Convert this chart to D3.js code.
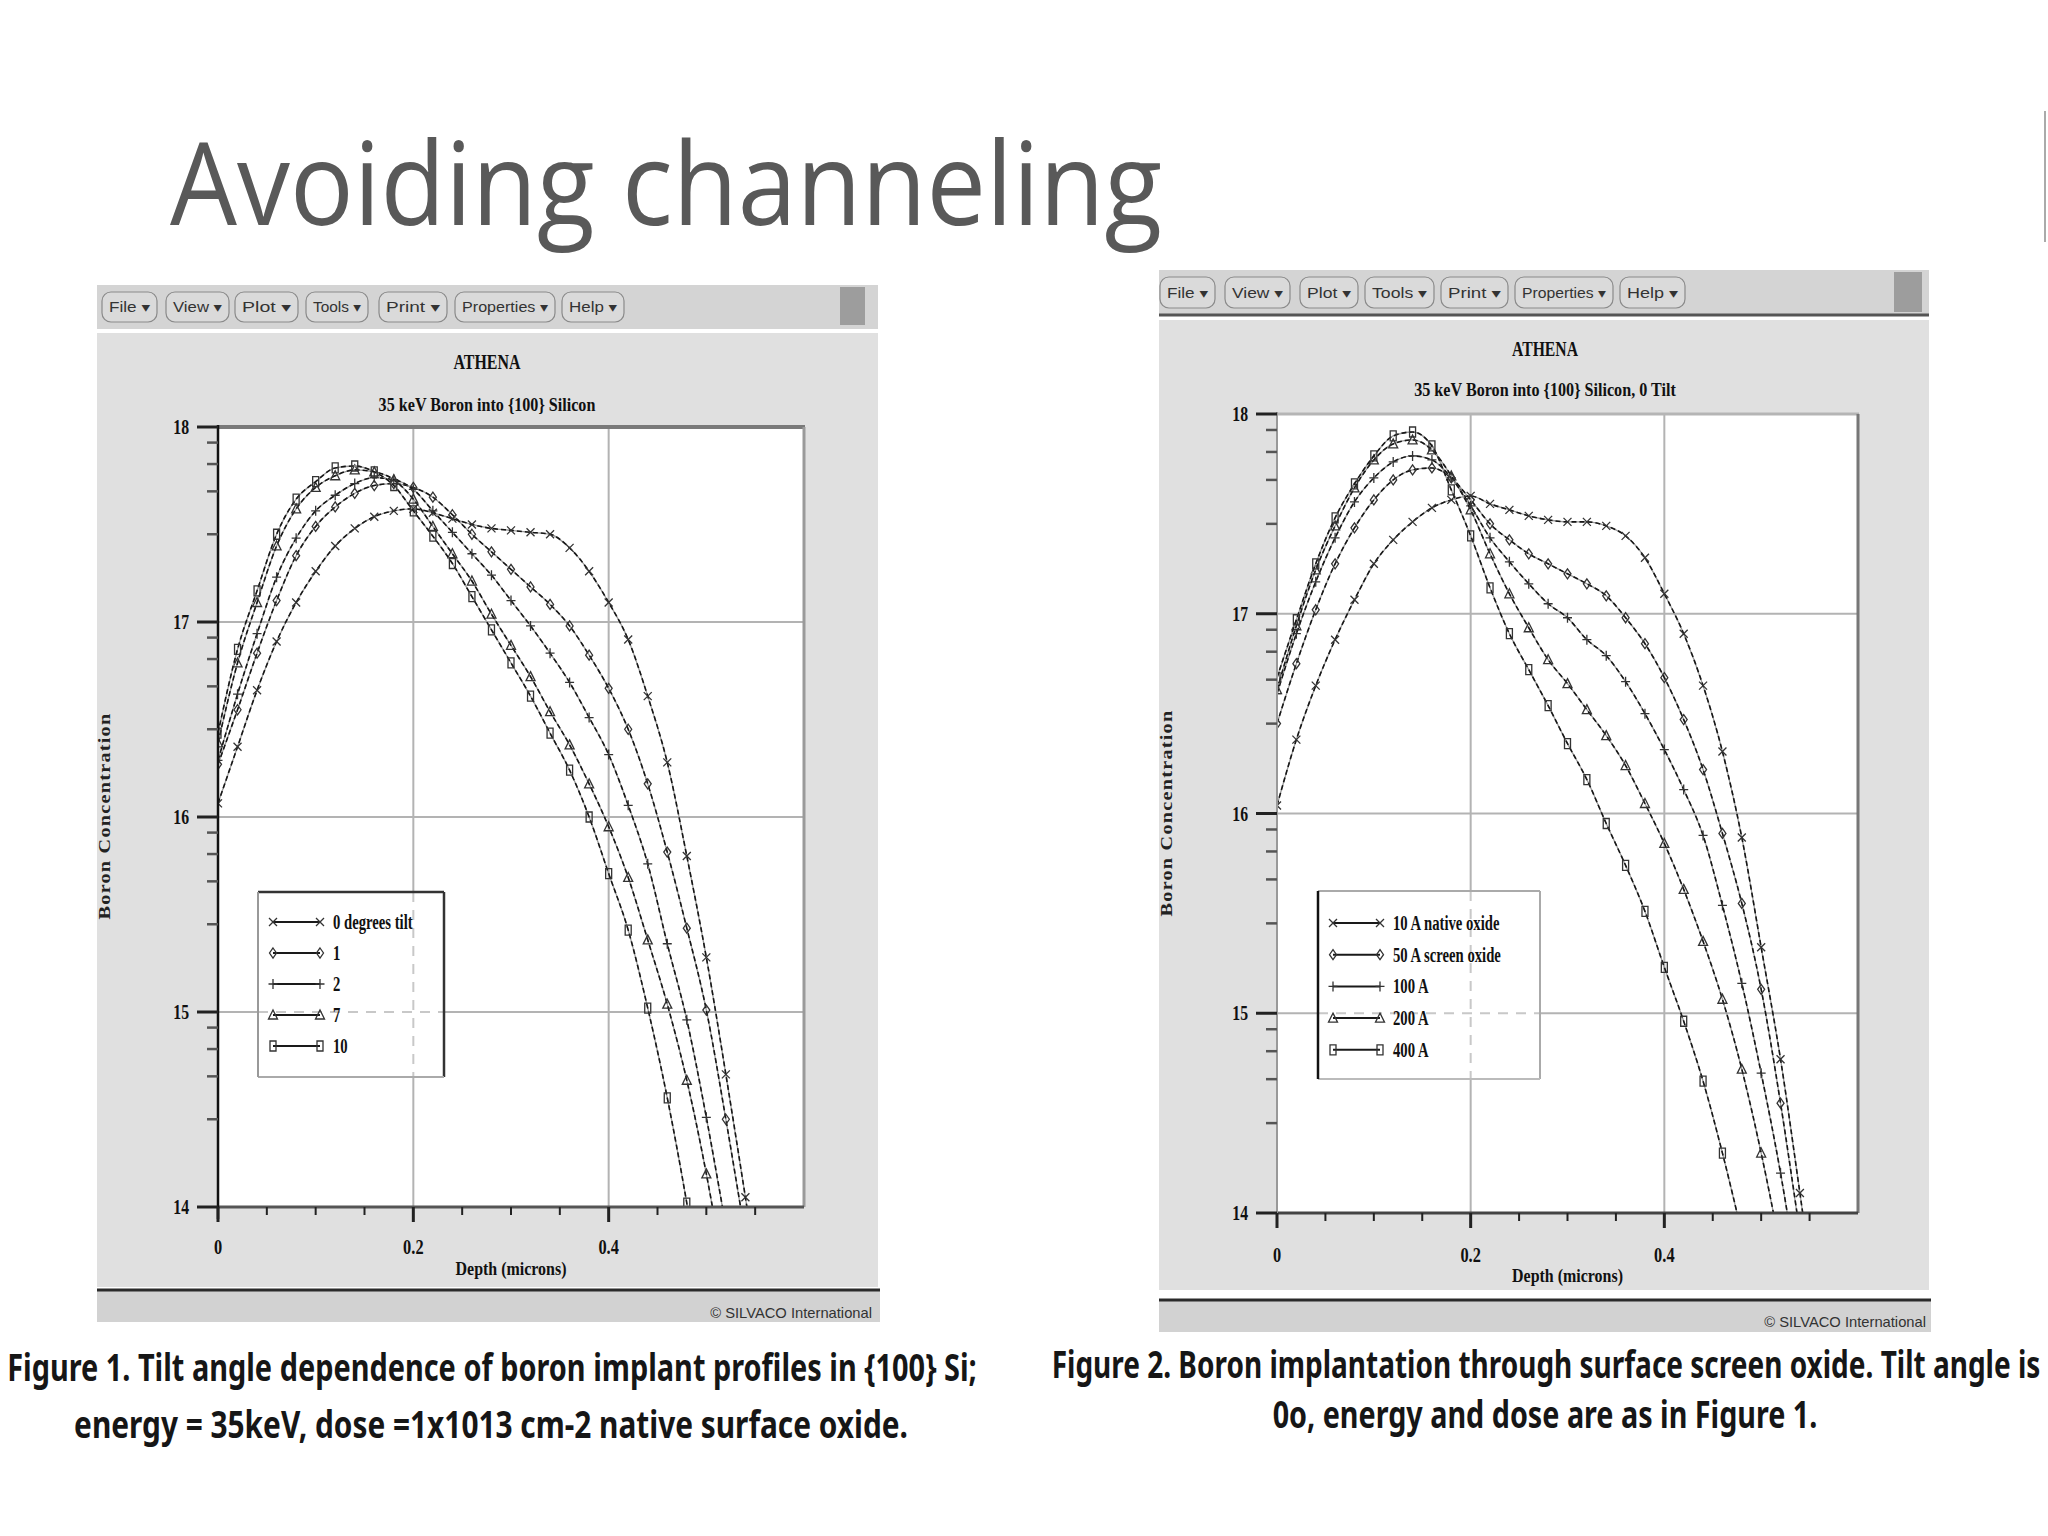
<!DOCTYPE html>
<html>
<head>
<meta charset="utf-8">
<title>Avoiding channeling</title>
<style>
  html, body { margin: 0; padding: 0; background: #fff; }
  svg { display: block; }
</style>
</head>
<body>
<svg id="slide" width="2048" height="1536"></svg>
<script src="https://cdn.jsdelivr.net/npm/d3@7"></script>
<script>
  // depth grid (microns) shared by every profile
  const depth = [0, 0.02, 0.04, 0.06, 0.08, 0.10, 0.12, 0.14, 0.16, 0.18, 0.20, 0.22, 0.24, 0.26,
    0.28, 0.30, 0.32, 0.34, 0.36, 0.38, 0.40, 0.42, 0.44, 0.46, 0.48, 0.50, 0.52, 0.54, 0.56]

  // Figure 1: log10 boron concentration per tilt angle
  const tilt0 = [16.07, 16.36, 16.65, 16.90, 17.10, 17.26, 17.39, 17.48, 17.54, 17.57, 17.58, 17.56, 17.53, 17.50,
    17.48, 17.47, 17.46, 17.45, 17.38, 17.26, 17.10, 16.91, 16.62, 16.28, 15.80, 15.28, 14.68, 14.05, 13.40]
  const tilt1 = [16.27, 16.55, 16.84, 17.11, 17.34, 17.49, 17.59, 17.66, 17.70, 17.71, 17.69, 17.64, 17.55, 17.45,
    17.36, 17.27, 17.18, 17.09, 16.98, 16.83, 16.66, 16.45, 16.17, 15.82, 15.43, 15.01, 14.45, 13.85]
  const tilt2 = [16.29, 16.63, 16.94, 17.23, 17.43, 17.57, 17.65, 17.71, 17.74, 17.73, 17.68, 17.57, 17.46, 17.35,
    17.24, 17.11, 16.98, 16.84, 16.69, 16.51, 16.32, 16.06, 15.76, 15.35, 14.96, 14.46, 13.90]
  const tilt7 = [16.38, 16.79, 17.10, 17.39, 17.58, 17.69, 17.75, 17.78, 17.77, 17.73, 17.63, 17.49, 17.35, 17.21,
    17.04, 16.88, 16.72, 16.54, 16.37, 16.17, 15.95, 15.69, 15.37, 15.04, 14.65, 14.17, 13.60]
  const tilt10 = [16.43, 16.86, 17.16, 17.45, 17.63, 17.72, 17.79, 17.80, 17.77, 17.70, 17.57, 17.44, 17.30, 17.13,
    16.96, 16.79, 16.62, 16.43, 16.24, 16.00, 15.71, 15.42, 15.02, 14.56, 14.02, 13.40]
  const tiltLabels = ['0 degrees tilt', '1', '2', '7', '10']

  // Figure 2: log10 boron concentration per screen oxide thickness
  const ox10 = [16.04, 16.37, 16.64, 16.87, 17.07, 17.25, 17.37, 17.46, 17.53, 17.57, 17.59, 17.55, 17.52, 17.49,
    17.47, 17.46, 17.46, 17.44, 17.39, 17.28, 17.10, 16.90, 16.64, 16.31, 15.88, 15.33, 14.77, 14.10, 13.40]
  const ox50 = [16.45, 16.75, 17.02, 17.25, 17.43, 17.57, 17.67, 17.72, 17.73, 17.68, 17.57, 17.45, 17.37, 17.30,
    17.25, 17.20, 17.15, 17.09, 16.98, 16.85, 16.68, 16.47, 16.22, 15.90, 15.55, 15.12, 14.55, 13.90]
  const ox100 = [16.60, 16.90, 17.16, 17.38, 17.56, 17.68, 17.76, 17.79, 17.77, 17.68, 17.54, 17.38, 17.26, 17.15,
    17.05, 16.98, 16.87, 16.79, 16.66, 16.50, 16.32, 16.12, 15.89, 15.54, 15.15, 14.70, 14.20, 13.60]
  const ox200 = [16.62, 16.94, 17.22, 17.44, 17.63, 17.77, 17.85, 17.87, 17.82, 17.69, 17.52, 17.30, 17.10, 16.93,
    16.77, 16.65, 16.52, 16.39, 16.24, 16.05, 15.85, 15.62, 15.36, 15.07, 14.72, 14.30, 13.82]
  const ox400 = [16.68, 16.97, 17.25, 17.48, 17.65, 17.79, 17.89, 17.91, 17.84, 17.62, 17.39, 17.13, 16.90, 16.72,
    16.54, 16.35, 16.17, 15.95, 15.74, 15.51, 15.23, 14.96, 14.66, 14.30, 13.90]
  const oxideLabels = ['10 A native oxide', '50 A screen oxide', '100 A', '200 A', '400 A']

  const markerTypes = ['cross', 'diamond', 'plus', 'triangle', 'square']

  // axis ticks
  const yMajor = [14, 15, 16, 17, 18]
  const yMinorOffsets = [0.08, 0.19, 0.33, 0.55]
  const xTicks = [0, 0.05, 0.1, 0.15, 0.2, 0.25, 0.3, 0.35, 0.4, 0.45, 0.5, 0.55]
  const xLabels = [0, 0.2, 0.4]
  const vGrid = [0.2, 0.4]
  const hGrid = [15, 16, 17]
  const menuLabels = ['File', 'View', 'Plot', 'Tools', 'Print', 'Properties', 'Help']

  const serif = "'Liberation Serif', 'DejaVu Serif', serif"
  const sans = "'Liberation Sans', 'DejaVu Sans', sans-serif"

  const svg = d3.select('#slide')
  svg.append('rect').attr('width', 2048).attr('height', 1536).attr('fill', '#fff')

  // squash a text horizontally with a transform so its box really is the target width
  const scaleText = (sel, widthOf) => {
    sel.each(function (d, i) {
      const node = d3.select(this)
      const nat = this.getComputedTextLength()
      const tx = +node.attr('x') || 0
      const ty = +node.attr('y') || 0
      const rot = node.attr('data-rot') || 0
      node.attr('x', 0).attr('y', 0)
        .attr('transform', `translate(${tx},${ty}) rotate(${rot}) scale(${widthOf(nat, d, i) / nat},1)`)
    })
    return sel
  }
  const fitTo = (sel, w) => scaleText(sel, () => w)
  const squeeze = (sel, k) => scaleText(sel, nat => nat * k)

  const markerPath = {
    cross: 'M-4,-4L4,4M-4,4L4,-4',
    diamond: 'M0,-5L3.5,0L0,5L-3.5,0Z',
    plus: 'M-4.5,0L4.5,0M0,-5L0,5',
    triangle: 'M0,-5L4.5,4L-4.5,4Z',
    square: 'M-3,-5H3V5H-3Z'
  }

  // slide title
  fitTo(svg.append('text')
    .attr('x', 170).attr('y', 225)
    .attr('font-family', "'Open Sans', 'Noto Sans', sans-serif")
    .attr('font-size', 116)
    .attr('fill', '#595959')
    .text('Avoiding channeling'), 992)

  svg.append('line')
    .attr('x1', 2045).attr('x2', 2045).attr('y1', 111).attr('y2', 242)
    .attr('stroke', '#aaa').attr('stroke-width', 2)

  const panels = [
    {
      id: 'fig1',
      left: 97, right: 878,
      menuTop: 285, menuBottom: 329, menuRule: false,
      btnTop: 292, btnBottom: 322,
      buttons: [[102, 157], [166, 229], [235, 298], [306, 368], [379, 447], [455, 555], [562, 624]],
      scroll: [840, 287, 25, 38],
      bodyTop: 333, bodyBottom: 1287, ruleY: 1290, statusBottom: 1322,
      centerX: 487, athenaY: 369, athenaW: 67,
      subtitle: '35 keV Boron into {100} Silicon', subY: 411, subW: 217,
      plot: { left: 218, right: 804, top: 427, bottom: 1207 },
      frame: { top: ['#7a7a7a', 4], right: ['#9a9a9a', 3], axis: ['#111', 2.5], bottom: ['#555', 3] },
      yLabelX: 104, yLabelY: 816,
      xLabelY: 1254, depthY: 1275,
      series: [tilt0, tilt1, tilt2, tilt7, tilt10],
      labels: tiltLabels,
      legend: { x0: 258, x1: 444, y0: 892, y1: 1077, rowY: 922, rowStep: 31, sx0: 273, sx1: 320, tx: 333,
        borders: { top: ['#333', 2.5], right: ['#333', 2.5], bottom: ['#aaa', 2], left: ['#999', 2] } },
      silvacoX: 872, silvacoY: 1313
    },
    {
      id: 'fig2',
      left: 1159, right: 1929,
      menuTop: 270, menuBottom: 314, menuRule: true,
      btnTop: 277, btnBottom: 308,
      buttons: [[1160, 1215], [1225, 1290], [1300, 1358], [1365, 1434], [1441, 1508], [1515, 1613], [1620, 1685]],
      scroll: [1894, 272, 28, 40],
      bodyTop: 320, bodyBottom: 1290, ruleY: 1300, statusBottom: 1332,
      centerX: 1545, athenaY: 356, athenaW: 66,
      subtitle: '35 keV Boron into {100} Silicon, 0 Tilt', subY: 396, subW: 262,
      plot: { left: 1277, right: 1858, top: 414, bottom: 1213 },
      frame: { top: ['#b5b5b5', 3], right: ['#777', 3], axis: ['#999', 2], bottom: ['#444', 3] },
      yLabelX: 1166, yLabelY: 813,
      xLabelY: 1262, depthY: 1282,
      series: [ox10, ox50, ox100, ox200, ox400],
      labels: oxideLabels,
      legend: { x0: 1318, x1: 1540, y0: 891, y1: 1079, rowY: 923, rowStep: 31.7, sx0: 1333, sx1: 1380, tx: 1393,
        borders: { top: ['#aaa', 2], right: ['#aaa', 2], bottom: ['#bbb', 2], left: ['#111', 2.5] } },
      silvacoX: 1926, silvacoY: 1322
    }
  ]

  const drawPanel = (p) => {
    const g = svg.append('g').attr('id', p.id)

    // menu bar
    g.append('rect')
      .attr('x', p.left).attr('y', p.menuTop)
      .attr('width', p.right - p.left).attr('height', p.menuBottom - p.menuTop)
      .attr('fill', '#d4d4d4')
    if (p.menuRule) {
      g.append('line')
        .attr('x1', p.left).attr('x2', p.right).attr('y1', p.menuBottom + 1).attr('y2', p.menuBottom + 1)
        .attr('stroke', '#555').attr('stroke-width', 3)
    }
    p.buttons.forEach(([bx0, bx1], i) => {
      g.append('rect')
        .attr('x', bx0).attr('y', p.btnTop)
        .attr('width', bx1 - bx0).attr('height', p.btnBottom - p.btnTop)
        .attr('rx', 9)
        .attr('fill', '#dadada').attr('stroke', '#8a8a8a').attr('stroke-width', 1.2)
      fitTo(g.append('text')
        .attr('x', (bx0 + bx1) / 2).attr('y', (p.btnTop + p.btnBottom) / 2 + 5)
        .attr('text-anchor', 'middle')
        .attr('font-family', sans).attr('font-size', 14).attr('fill', '#333')
        .text(menuLabels[i] + ' \u25BE'), bx1 - bx0 - 14)
    })
    g.append('rect')
      .attr('x', p.scroll[0]).attr('y', p.scroll[1])
      .attr('width', p.scroll[2]).attr('height', p.scroll[3])
      .attr('fill', '#9d9d9d')

    // body and status bar
    g.append('rect')
      .attr('x', p.left).attr('y', p.bodyTop)
      .attr('width', p.right - p.left).attr('height', p.bodyBottom - p.bodyTop)
      .attr('fill', '#e0e0e0')
    g.append('rect')
      .attr('x', p.left).attr('y', p.ruleY)
      .attr('width', p.right - p.left + 2).attr('height', p.statusBottom - p.ruleY)
      .attr('fill', '#d2d2d2')
    g.append('line')
      .attr('x1', p.left).attr('x2', p.right + 2).attr('y1', p.ruleY).attr('y2', p.ruleY)
      .attr('stroke', '#2a2a2a').attr('stroke-width', 3)
    fitTo(g.append('text')
      .attr('x', p.silvacoX).attr('y', p.silvacoY + 5)
      .attr('text-anchor', 'end')
      .attr('font-family', sans).attr('font-size', 14).attr('fill', '#333')
      .text('\u00A9 SILVACO International'), 162)

    // titles
    fitTo(g.append('text')
      .attr('x', p.centerX).attr('y', p.athenaY)
      .attr('text-anchor', 'middle')
      .attr('font-family', serif).attr('font-weight', 'bold').attr('font-size', 21).attr('fill', '#111')
      .text('ATHENA'), p.athenaW)
    fitTo(g.append('text')
      .attr('x', p.centerX).attr('y', p.subY)
      .attr('text-anchor', 'middle')
      .attr('font-family', serif).attr('font-weight', 'bold').attr('font-size', 19).attr('fill', '#111')
      .text(p.subtitle), p.subW)

    // scales
    const x = d3.scaleLinear().domain([0, 0.6]).range([p.plot.left, p.plot.right])
    const y = d3.scaleLinear().domain([14, 18]).range([p.plot.bottom, p.plot.top])

    // plot background
    g.append('rect')
      .attr('x', p.plot.left).attr('y', p.plot.top)
      .attr('width', p.plot.right - p.plot.left).attr('height', p.plot.bottom - p.plot.top)
      .attr('fill', '#fff')

    // grid
    g.selectAll('.vgrid').data(vGrid).enter().append('line')
      .attr('x1', d => x(d)).attr('x2', d => x(d))
      .attr('y1', p.plot.top).attr('y2', p.plot.bottom)
      .attr('stroke', '#b3b3b3').attr('stroke-width', 2)
    g.selectAll('.hgrid').data(hGrid).enter().append('line')
      .attr('x1', p.plot.left).attr('x2', p.plot.right)
      .attr('y1', d => y(d)).attr('y2', d => y(d))
      .attr('stroke', '#b3b3b3').attr('stroke-width', 2)

    // profiles
    const clipId = p.id + '-clip'
    g.append('clipPath').attr('id', clipId)
      .append('rect')
      .attr('x', p.plot.left).attr('y', p.plot.top - 6)
      .attr('width', p.plot.right - p.plot.left).attr('height', p.plot.bottom - p.plot.top + 6)
    const plotG = g.append('g').attr('clip-path', `url(#${clipId})`)

    const line = d3.line()
      .x(d => x(d[0]))
      .y(d => y(d[1]))
      .curve(d3.curveMonotoneX)

    p.series.forEach((values, si) => {
      const pts = values.map((v, i) => [depth[i], v])
      plotG.append('path').datum(pts)
        .attr('d', line)
        .attr('fill', 'none').attr('stroke', '#9a9a9a').attr('stroke-width', 1.3)
      plotG.append('path').datum(pts)
        .attr('d', line)
        .attr('fill', 'none').attr('stroke', '#161616').attr('stroke-width', 1.6)
        .attr('stroke-dasharray', '5 3')
      plotG.selectAll(null).data(pts.filter(d => d[1] >= 13.97)).enter().append('path')
        .attr('transform', d => `translate(${x(d[0])},${y(d[1])})`)
        .attr('d', markerPath[markerTypes[si]])
        .attr('fill', 'none').attr('stroke', '#333').attr('stroke-width', 1.3)
    })

    // frame
    g.append('line')
      .attr('x1', p.plot.left).attr('x2', p.plot.right + 1).attr('y1', p.plot.top).attr('y2', p.plot.top)
      .attr('stroke', p.frame.top[0]).attr('stroke-width', p.frame.top[1])
    g.append('line')
      .attr('x1', p.plot.right).attr('x2', p.plot.right).attr('y1', p.plot.top).attr('y2', p.plot.bottom)
      .attr('stroke', p.frame.right[0]).attr('stroke-width', p.frame.right[1])
    g.append('line')
      .attr('x1', p.plot.left).attr('x2', p.plot.right).attr('y1', p.plot.bottom).attr('y2', p.plot.bottom)
      .attr('stroke', p.frame.bottom[0]).attr('stroke-width', p.frame.bottom[1])
    g.append('line')
      .attr('x1', p.plot.left).attr('x2', p.plot.left).attr('y1', p.plot.top - 2).attr('y2', p.plot.bottom + 12)
      .attr('stroke', p.frame.axis[0]).attr('stroke-width', p.frame.axis[1])

    // y ticks
    const yMinor = yMajor.slice(1).flatMap(m => yMinorOffsets.map(o => m - o))
    g.selectAll('.ymin').data(yMinor).enter().append('line')
      .attr('x1', p.plot.left - 11).attr('x2', p.plot.left)
      .attr('y1', d => y(d)).attr('y2', d => y(d))
      .attr('stroke', '#555').attr('stroke-width', 2.5)
    g.selectAll('.ymaj').data(yMajor).enter().append('line')
      .attr('x1', p.plot.left - 21).attr('x2', p.plot.left)
      .attr('y1', d => y(d)).attr('y2', d => y(d))
      .attr('stroke', '#222').attr('stroke-width', 3)
    squeeze(g.selectAll('.ylab').data(yMajor).enter().append('text')
      .attr('x', p.plot.left - 29).attr('y', d => y(d) + 7)
      .attr('text-anchor', 'end')
      .attr('font-family', serif).attr('font-weight', 'bold').attr('font-size', 21).attr('fill', '#111')
      .text(d => d), 0.75)

    // x ticks
    g.selectAll('.xt').data(xTicks).enter().append('line')
      .attr('x1', d => x(d)).attr('x2', d => x(d))
      .attr('y1', p.plot.bottom).attr('y2', d => p.plot.bottom + (xLabels.includes(d) ? 15 : 8))
      .attr('stroke', '#222').attr('stroke-width', d => xLabels.includes(d) ? 3 : 2)
    squeeze(g.selectAll('.xlab').data(xLabels).enter().append('text')
      .attr('x', d => x(d)).attr('y', p.xLabelY)
      .attr('text-anchor', 'middle')
      .attr('font-family', serif).attr('font-weight', 'bold').attr('font-size', 21).attr('fill', '#111')
      .text(d => d), 0.78)

    fitTo(g.append('text')
      .attr('x', (p.plot.left + p.plot.right) / 2).attr('y', p.depthY)
      .attr('text-anchor', 'middle')
      .attr('font-family', serif).attr('font-weight', 'bold').attr('font-size', 19).attr('fill', '#111')
      .text('Depth (microns)'), 111)

    fitTo(g.append('text')
      .attr('x', p.yLabelX + 6).attr('y', p.yLabelY)
      .attr('data-rot', -90)
      .attr('text-anchor', 'middle')
      .attr('font-family', serif).attr('font-weight', 'bold').attr('font-size', 16).attr('fill', '#222')
      .attr('letter-spacing', 1)
      .text('Boron Concentration'), 207)

    // legend
    const L = p.legend
    g.append('rect')
      .attr('x', L.x0).attr('y', L.y0).attr('width', L.x1 - L.x0).attr('height', L.y1 - L.y0)
      .attr('fill', '#fff')
    // grid shows through the legend as faint dashes
    g.selectAll('.lv').data(vGrid.filter(d => x(d) > L.x0 && x(d) < L.x1)).enter().append('line')
      .attr('x1', d => x(d)).attr('x2', d => x(d)).attr('y1', L.y0).attr('y2', L.y1)
      .attr('stroke', '#c8c8c8').attr('stroke-width', 2).attr('stroke-dasharray', '10 8')
    g.selectAll('.lh').data(hGrid.filter(d => y(d) > L.y0 && y(d) < L.y1)).enter().append('line')
      .attr('x1', L.x0).attr('x2', L.x1).attr('y1', d => y(d)).attr('y2', d => y(d))
      .attr('stroke', '#c8c8c8').attr('stroke-width', 2).attr('stroke-dasharray', '10 8')
    const edges = {
      top: [L.x0, L.y0, L.x1, L.y0], right: [L.x1, L.y0, L.x1, L.y1],
      bottom: [L.x0, L.y1, L.x1, L.y1], left: [L.x0, L.y0, L.x0, L.y1]
    }
    Object.keys(edges).forEach(k => {
      const e = edges[k]
      g.append('line')
        .attr('x1', e[0]).attr('y1', e[1]).attr('x2', e[2]).attr('y2', e[3])
        .attr('stroke', L.borders[k][0]).attr('stroke-width', L.borders[k][1])
    })
    p.labels.forEach((label, i) => {
      const ry = L.rowY + i * L.rowStep
      g.append('line')
        .attr('x1', L.sx0).attr('x2', L.sx1).attr('y1', ry).attr('y2', ry)
        .attr('stroke', '#1a1a1a').attr('stroke-width', 2)
      ;[L.sx0, L.sx1].forEach(mx => {
        g.append('path')
          .attr('transform', `translate(${mx},${ry})`)
          .attr('d', markerPath[markerTypes[i]])
          .attr('fill', 'none').attr('stroke', '#333').attr('stroke-width', 1.3)
      })
      squeeze(g.append('text')
        .attr('x', L.tx).attr('y', ry + 7)
        .attr('font-family', serif).attr('font-weight', 'bold').attr('font-size', 21).attr('fill', '#111')
        .text(label), 0.7)
    })
  }

  panels.forEach(drawPanel)

  // captions
  const captionFont = "'Liberation Sans Narrow', 'Noto Sans', sans-serif"
  const captions = [
    { text: 'Figure 1. Tilt angle dependence of boron implant profiles in {100} Si;', x: 492, y: 1381, w: 970 },
    { text: 'energy = 35keV, dose =1x1013 cm-2 native surface oxide.', x: 491, y: 1438, w: 834 },
    { text: 'Figure 2. Boron implantation through surface screen oxide. Tilt angle is', x: 1546, y: 1378, w: 989 },
    { text: '0o, energy and dose are as in Figure 1.', x: 1545, y: 1428, w: 545 }
  ]
  captions.forEach(c => {
    fitTo(svg.append('text')
      .attr('x', c.x).attr('y', c.y)
      .attr('text-anchor', 'middle')
      .attr('font-family', captionFont).attr('font-weight', 'bold').attr('font-size', 37)
      .attr('fill', '#161616')
      .text(c.text), c.w)
  })
</script>
</body>
</html>
